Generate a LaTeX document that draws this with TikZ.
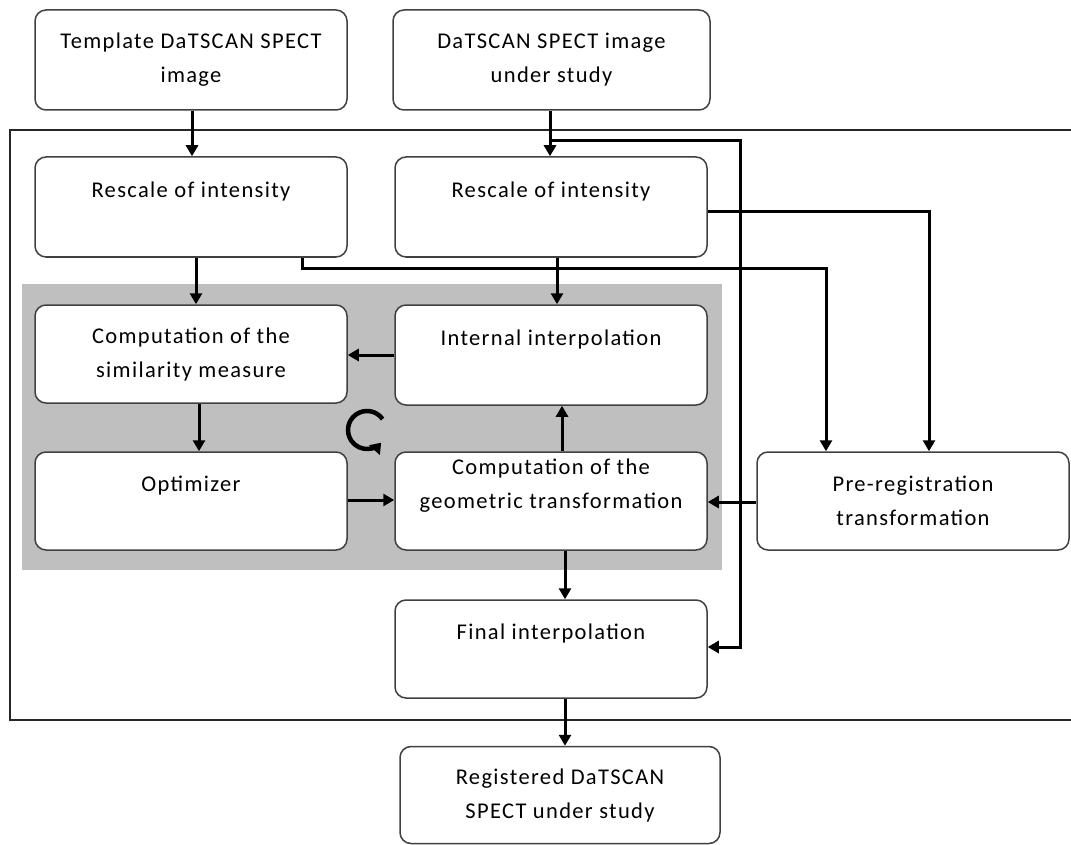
\documentclass[tikz,border=0pt]{standalone}
\usepackage{fontspec}
\setmainfont{Carlito}[LetterSpace=6]
\usetikzlibrary{arrows.meta}
\begin{document}
\begin{tikzpicture}[x=1pt,y=-1pt,
  box/.style={draw=black!75,line width=1.5pt,rounded corners=11pt,fill=white,
    align=center,inner sep=0pt,font=\fontsize{22.5}{34}\selectfont},
  conn/.style={line width=3pt,-{Triangle[length=11pt,width=12pt]}},
  plain/.style={line width=3pt}]
\useasboundingbox (0,0) rectangle (1071,845);
% outer frame (open to the right)
\draw[line width=1.4pt,black!85] (1075,130) -- (10,130) -- (10,720) -- (1075,720);
% gray loop area
\fill[black!25] (22,284) rectangle (722,570);
% boxes
\node[box,minimum width=312,minimum height=100] (tmpl) at (191,60) {Template DaTSCAN SPECT\\image};
\node[box,minimum width=317,minimum height=100] (study) at (551.5,60) {DaTSCAN SPECT image\\under study};
\node[box,minimum width=312,minimum height=100] (resc1) at (191,207) {Rescale of intensity\\\mbox{}};
\node[box,minimum width=312,minimum height=100] (resc2) at (551,207) {Rescale of intensity\\\mbox{}};
\node[box,minimum width=312,minimum height=98] (sim) at (191,354) {Computation of the\\similarity measure};
\node[box,minimum width=312,minimum height=100] (intp) at (551,355) {Internal interpolation\\\mbox{}};
\node[box,minimum width=312,minimum height=98] (opt) at (191,501) {Optimizer\\\mbox{}};
\node[box,minimum width=312,minimum height=98] (geom) at (551,501) {Computation of the\\geometric transformation\\\mbox{}};
\node[box,minimum width=312,minimum height=98] (pre) at (913,501) {Pre-registration\\transformation};
\node[box,minimum width=312,minimum height=98] (final) at (551,649) {Final interpolation\\\mbox{}};
\node[box,minimum width=320,minimum height=97] (reg) at (560,795) {Registered DaTSCAN\\SPECT under study};
% helper coordinates
\coordinate (c1) at (550,141);
\coordinate (c2) at (740,141);
\coordinate (c3) at (740,647);
\coordinate (c4) at (302,268);
\coordinate (c5) at (826,268);
\coordinate (c6) at (929,212);
% connectors
\draw[conn] (tmpl.south -| 192,0) -- (resc1.north -| 192,0);
\draw[conn] (study.south -| c1) -- (resc2.north -| c1);
\draw[conn] (c1) -- (c2) -- (c3) -- (final.east |- c3);
\draw[conn] (resc1.south -| 196,0) -- (sim.north -| 196,0);
\draw[conn] (resc1.south -| c4) -- (c4) -- (c5) -- (pre.north -| c5);
\draw[conn] (resc2.south -| 557,0) -- (intp.north -| 557,0);
\draw[conn] (resc2.east |- c6) -- (c6) -- (pre.north -| c6);
\draw[conn] (intp.west |- 0,355) -- (sim.east |- 0,355);
\draw[conn] (sim.south -| 199,0) -- (opt.north -| 199,0);
\draw[conn] (geom.north -| 562,0) -- (intp.south -| 562,0);
\draw[conn] (opt.east |- 0,500) -- (geom.west |- 0,500);
\draw[conn] (pre.west |- 0,502) -- (geom.east |- 0,502);
\draw[conn] (geom.south -| 565,0) -- (final.north -| 565,0);
\draw[conn] (final.south -| 565,0) -- (reg.north -| 565,0);
% loop icon
\coordinate (loopc) at (367,430);
\draw[line width=4.5pt,-{Triangle[length=10pt,width=14pt]}] (loopc) ++(-35:19) arc[start angle=-35,end angle=-318,radius=19];
\end{tikzpicture}
\end{document}
